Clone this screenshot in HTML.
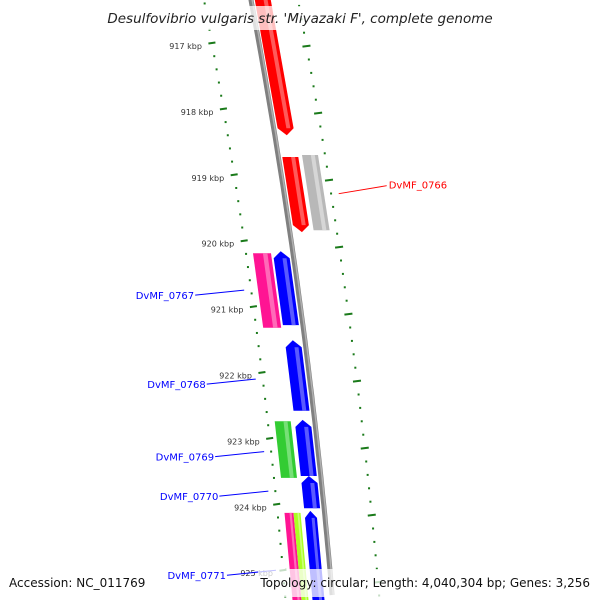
<!DOCTYPE html>
<html><head><meta charset="utf-8"><style>
html,body{margin:0;padding:0;background:#fff;width:600px;height:600px;overflow:hidden;}
svg{display:block;font-family:"DejaVu Sans","Liberation Sans",sans-serif;overflow:hidden;}
</style></head><body>
<svg id="map" width="600" height="600" viewBox="0 0 600 600" xmlns="http://www.w3.org/2000/svg">
<defs><clipPath id="frame"><rect x="0" y="0" width="600" height="600"/></clipPath></defs>
<g clip-path="url(#frame)">
<g id="rings"></g>
<path id="backbone" fill="none" stroke="#808080" stroke-width="5"/>
<path id="backbone-hl" fill="none" stroke="#b0b0b0" stroke-width="1.5"/>
<g id="genes"></g>
<g id="labels"></g>
<rect x="104" y="6" width="392" height="24" fill="#fff" fill-opacity="0.75"/>
<text x="300" y="23" text-anchor="middle" font-size="13.5" font-style="italic" fill="#222">Desulfovibrio vulgaris str. 'Miyazaki F', complete genome</text>
<rect x="4" y="570" width="145" height="26" fill="#fff" fill-opacity="0.75"/>
<text x="9" y="587" font-size="12" fill="#111">Accession: NC_011769</text>
<rect x="258" y="569" width="336" height="28" fill="#fff" fill-opacity="0.75"/>
<text x="590" y="587" text-anchor="end" font-size="12" fill="#111">Topology: circular; Length: 4,040,304 bp; Genes: 3,256</text>
</g>
</svg>
<script>
const kbpTicks=[917,918,919,920,921,922,923,924,925];
const tickLabels=["917 kbp","918 kbp","919 kbp","920 kbp","921 kbp","922 kbp","923 kbp","924 kbp","925 kbp"];
const geneNames=["red1","DvMF_0766","gray1","DvMF_0767","pink1","DvMF_0768","DvMF_0769","green1","DvMF_0770","DvMF_0771","pink2","lime1"];
const geneStarts=[916.1,918.73,918.70,920.16,920.19,921.51,922.72,922.74,923.57,924.10,924.13,924.13];
const geneEnds=[918.40,919.87,919.84,921.28,921.32,922.58,923.57,923.60,924.06,925.6,925.6,925.6];
const geneStrand=[1,1,0,-1,0,-1,-1,0,-1,-1,0,0];
const geneRing=[[4,20],[4,20],[24,40],[-20,-4],[-40,-22],[-20,-4],[-20,-4],[-40,-24],[-20,-4],[-20,-8],[-40,-31],[-31,-24]];
const geneColors=["#ff0000","#ff0000","#b8b8b8","#0000ff","#ff1493","#0000ff","#0000ff","#33cc33","#0000ff","#0000ff","#ff1493","#aaff22"];
const geneLight=["#ff5a5a","#ff5a5a","#d6d6d6","#5a5aff","#ff6ab8","#5a5aff","#5a5aff","#77e077","#5a5aff","#5a5aff","#ff6ab8","#ccff77"];
const labelNames=["DvMF_0766","DvMF_0767","DvMF_0768","DvMF_0769","DvMF_0770","DvMF_0771"];
const labelKbp=[919.15,920.75,922.10,923.20,923.80,925.0];
const labelSide=[1,-1,-1,-1,-1,-1];

const NS="http://www.w3.org/2000/svg";
function x0(y){return 251+0.1876*y-8.62e-5*y*y;}
function yK(k){return 43+(k-917)*65.9;}
function yR(k){return 93+(k-917.7)*67;}
function mk(t,a){const e=document.createElementNS(NS,t);for(const k in a)e.setAttribute(k,a[k]);return e;}
let d="";for(let y=-5;y<=600;y+=10){d+=(y===-5?"M":"L")+x0(y).toFixed(1)+","+y+" ";}
document.getElementById("backbone").setAttribute("d",d);
let d2="";for(let y=-5;y<=600;y+=10){d2+=(y===-5?"M":"L")+(x0(y)+1.2).toFixed(1)+","+y+" ";}
document.getElementById("backbone-hl").setAttribute("d",d2);
const rings=document.getElementById("rings");
for(let k=915.6;k<=925.8;k+=0.2){
  const kr=Math.round(k*5)/5;const major=Math.abs(kr-Math.round(kr))<0.01;
  const yl=yK(kr);const xl=x0(yl)-47;
  if(yl>-2&&yl<602){
  const m=mk("line",{x1:xl-(major?3.5:1),y1:yl+(major?0.5:0),x2:xl+(major?3.5:1),y2:yl-(major?0.5:0),stroke:"#1a7a1a","stroke-width":2});
  
  
  rings.appendChild(m);}
  const yr=yR(kr);const xr=x0(yr)+47;
  if(yr>-2&&yr<602){
  const m2=mk("line",{x1:xr-(major?4:1),y1:yr+(major?0.5:0),x2:xr+(major?4:1),y2:yr-(major?0.5:0),stroke:"#1a7a1a","stroke-width":2});
  
  
  rings.appendChild(m2);}
}
kbpTicks.forEach((k,i)=>{const y=yK(k);const t=mk("text",{x:x0(y)-57,y:y+6,"text-anchor":"end","font-size":8,fill:"#333"});t.textContent=tickLabels[i];
  
  
  rings.appendChild(t);});
const G=document.getElementById("genes");
function poly(y1,y2,o1,o2,strand){
  const pts=[];const tip=7;const om=(o1+o2)/2;
  let b1=y1,b2=y2;if(strand===1)b2=y2-tip;if(strand===-1)b1=y1+tip;
  pts.push([x0(b1)+o1,b1]);
  if(strand===-1)pts.push([x0(y1)+om,y1]);
  pts.push([x0(b1)+o2,b1]);pts.push([x0(b2)+o2,b2]);
  if(strand===1)pts.push([x0(y2)+om,y2]);
  pts.push([x0(b2)+o1,b2]);
  return pts.map(p=>p[0].toFixed(1)+","+p[1].toFixed(1)).join(" ");
}
geneStarts.forEach((s,i)=>{
  const y1=yK(s),y2=Math.min(yK(geneEnds[i]),600);const [o1,o2]=geneRing[i];
  const p=mk("polygon",{points:poly(y1,y2,o1,o2,geneStrand[i]),fill:geneColors[i]});
  
  
  G.appendChild(p);
  const w=o2-o1;const tip=geneStrand[i]?7:0;
  const ly1=geneStrand[i]===-1?y1+tip:y1, ly2=geneStrand[i]===1?y2-tip:y2;
  const hl=mk("polygon",{points:poly(ly1,ly2,o1+w*0.55,o1+w*0.8,0),fill:geneLight[i]});
  
  
  G.appendChild(hl);
});
const L=document.getElementById("labels");
labelNames.forEach((n,i)=>{
  const y=yK(labelKbp[i]);
  if(labelSide[i]===1){
    const xs=x0(y)+56;
    const ln=mk("line",{x1:xs,y1:y+9,x2:xs+48,y2:y+1,stroke:"#ff0000","stroke-width":1});
    
    
    L.appendChild(ln);
    const t=mk("text",{x:xs+50,y:y+4,"font-size":10,fill:"#ff0000"});t.textContent=n;
    
    
    L.appendChild(t);
  }else{
    const xe=x0(y)-54;
    const ln=mk("line",{x1:xe-49,y1:y+5,x2:xe,y2:y,stroke:"#0000ff","stroke-width":1});
    
    
    L.appendChild(ln);
    const t=mk("text",{x:xe-50,y:y+9,"text-anchor":"end","font-size":10,fill:"#0000ff"});t.textContent=n;
    
    
    L.appendChild(t);
  }
});
</script>
</body></html>
